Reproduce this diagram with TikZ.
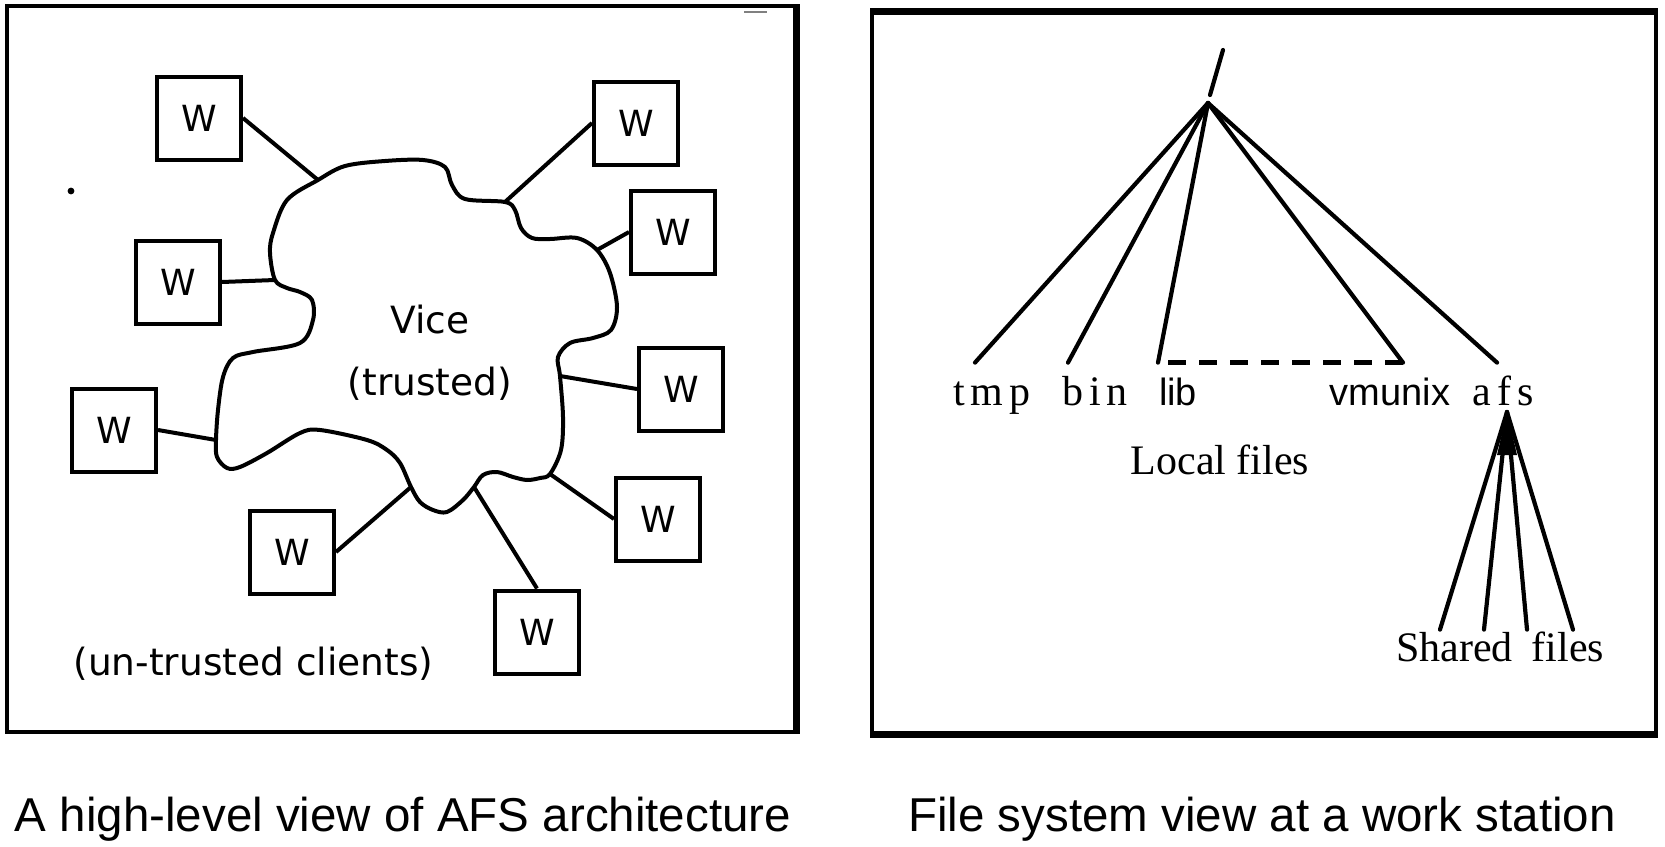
\documentclass[tikz,border=0pt]{standalone}
\usepackage{fontspec}
\setmainfont{Liberation Serif}
\newfontfamily\vicefont{DejaVu Sans}
\newfontfamily\capfont{Liberation Sans}
\usetikzlibrary{positioning}
\tikzstyle{wbox}=[
	rectangle,
	draw=black,
	line width=2pt,
	minimum width=42pt,
	minimum height=41.5pt,
	inner sep=0pt,
	font=\vicefont\fontsize{18}{20}\selectfont]
\tikzstyle{link}=[line width=2pt]
\tikzstyle{branch}=[line width=2.1pt, line cap=round]
\tikzstyle{leaf}=[
	anchor=base,
	inner xsep=0pt,
	inner ysep=7pt,
	text height=14pt,
	text depth=4pt,
	font=\fontsize{21}{24}\selectfont]
\tikzstyle{sansleaf}=[leaf, font=\capfont\fontsize{19}{24}\selectfont]
\tikzstyle{vicetext}=[anchor=base, inner sep=0pt, font=\vicefont\fontsize{18.75}{22}\selectfont]
\tikzstyle{caption}=[anchor=base, inner sep=0pt, font=\capfont\fontsize{23.75}{28}\selectfont]
\newcommand{\lsp}{\hspace{3pt}}

\begin{document}
\begin{tikzpicture}[x=0.5pt, y=-0.5pt]
	\useasboundingbox (0,0) rectangle (1665,846);

		% frames
		\draw[line width=1.6pt] (7,6) rectangle (796,732);
		\draw[line width=3.5pt] (796,4) -- (796,734);
		\draw[line width=2pt] (872,11) rectangle (1656,734);
		\draw[line width=3.5pt] (870,11) -- (1658,11);
		\draw[line width=3.5pt] (870,734) -- (1658,734);
		\fill (71,191) circle (1.7pt);
		\draw[gray, line width=0.6pt] (744,12) -- (767,12);

		% work stations
		\node (w1) [wbox] at (199,118) {W};
		\node (w2) [wbox] at (178,282) {W};
		\node (w3) [wbox] at (114,430) {W};
		\node (w4) [wbox] at (292,552) {W};
		\node (w5) [wbox] at (537,632) {W};
		\node (w6) [wbox] at (658,519) {W};
		\node (w7) [wbox] at (681,389) {W};
		\node (w8) [wbox] at (673,232) {W};
		\node (w9) [wbox] at (636,123) {W};

		% Vice cloud
		\coordinate (c1) at (318,180);
		\coordinate (c2) at (275,280);
		\coordinate (c3) at (216,440);
		\coordinate (c4) at (411,487);
		\coordinate (c5) at (474,487);
		\coordinate (c6) at (550,474);
		\coordinate (c7) at (560,376);
		\coordinate (c8) at (597,250);
		\coordinate (c9) at (505,202);
		\draw[link] plot[smooth cycle, tension=0.55] coordinates {
			(c1) (345,166) (385,161) (423,160) (445,167) (452,185) (465,199)
			(c9) (515,210) (521,228) (532,238) (550,239) (577,238)
			(c8) (610,273) (617,307) (611,330) (593,338) (570,343) (558,357)
			(c7) (563,417) (561,450)
			(c6) (540,478) (527,480) (513,477) (497,472) (483,475)
			(c5) (463,500) (447,512) (433,510) (420,502)
			(c4) (400,463) (387,450) (367,440) (320,430) (300,433) (267,453) (240,467) (227,468) (217,457)
			(c3) (218,410) (223,377) (233,358) (253,352) (300,343) (313,320) (312,300) (300,292) (287,288)
			(c2) (270,253) (273,233) (287,200)};

		\draw[link] (w1.east) -- (c1);
		\draw[link] (w2.east) -- (c2);
		\draw[link] (w3.east) -- (c3);
		\draw[link] (w4.east) -- (c4);
		\draw[link] (w5.north) -- (c5);
		\draw[link] (w6.west) -- (c6);
		\draw[link] (w7.west) -- (c7);
		\draw[link] (w8.west) -- (c8);
		\draw[link] (w9.west) -- (c9);

		\node (vice) [vicetext] at (430,333) {Vice};
		\node (trusted) [vicetext] at (430,395) {(trusted)};
		\node (clients) [vicetext, anchor=base west] at (73,675) {(un-trusted clients)};

		% file tree
		\coordinate (root) at (1208,103);
		\coordinate (slashfoot) at (1210,95);
		\coordinate (slashtop) at (1223,50);
		\draw[branch] (slashfoot) -- (slashtop);

		\node (tmp) [leaf] at (992,405) {t\lsp m\lsp p};
		\node (bin) [leaf] at (1095,405) {b\lsp i\lsp n};
		\node (lib) [sansleaf] at (1178,405) {lib};
		\node (vmunix) [sansleaf] at (1390,405) {vmunix};
		\node (afs) [leaf] at (1503,405) {a\lsp f\lsp s};

		\draw[branch] (root) -- ([xshift=-8.5pt]tmp.north);
		\draw[branch] (root) -- ([xshift=-13.5pt]bin.north);
		\draw[branch] (root) -- ([xshift=-10pt]lib.north);
		\draw[branch] (root) -- ([xshift=6.5pt]vmunix.north);
		\draw[branch] (root) -- ([xshift=-3pt]afs.north);
		\draw[line width=2.6pt, dash pattern=on 9pt off 6.5pt] ([xshift=-5pt]lib.north) -- ([xshift=6.5pt]vmunix.north);

		\node (local) [leaf, inner ysep=0pt] at (1220,474) {Local files};

		\coordinate (afsroot) at (1507,412);
		\fill (afsroot) -- (1497,455) -- (1517,455) -- cycle;
		\node (shared) [leaf, inner ysep=1.5pt] at (1500,661) {Shared\hspace{9.5pt}files};
		\draw[branch] (afsroot) -- ([xshift=-30pt]shared.north);
		\draw[branch] (afsroot) -- ([xshift=-8pt]shared.north);
		\draw[branch] (afsroot) -- ([xshift=13.5pt]shared.north);
		\draw[branch] (afsroot) -- ([xshift=36.5pt]shared.north);

		% captions
		\node (leftcap) [caption] at (403,831) {A high-level view of AFS architecture};
		\node (rightcap) [caption] at (1262,831) {File system view at a work station};

\end{tikzpicture}
\end{document}
